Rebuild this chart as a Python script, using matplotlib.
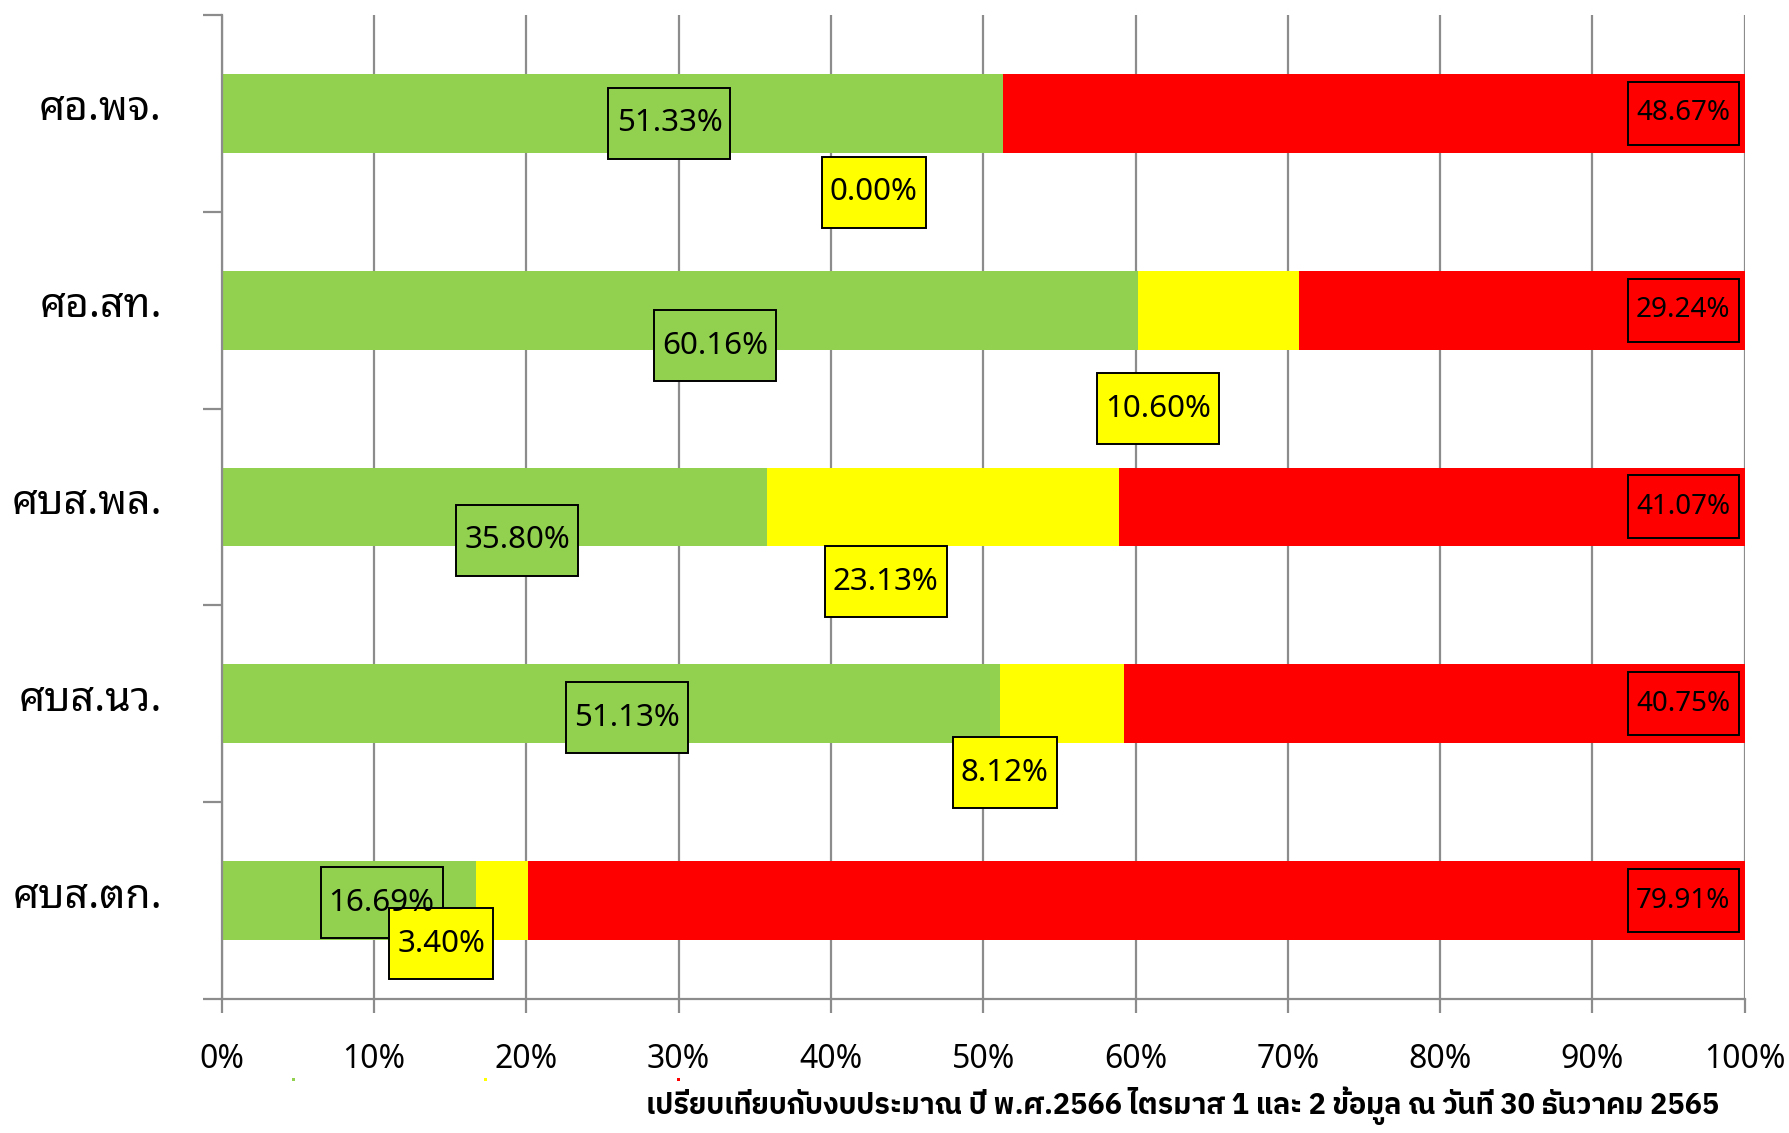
import matplotlib
matplotlib.use("Agg")
import matplotlib.pyplot as plt
from matplotlib.patches import Rectangle
from matplotlib.transforms import ScaledTranslation

# ---- data ----
categories = ["ศอ.พจ.", "ศอ.สท.", "ศบส.พล.", "ศบส.นว.", "ศบส.ตก."]
green_vals = [51.33, 60.16, 35.80, 51.13, 16.69]
yellow_vals = [0.00, 10.60, 23.13, 8.12, 3.40]
red_vals = [48.67, 29.24, 41.07, 40.75, 79.91]
x_ticks = [0, 10, 20, 30, 40, 50, 60, 70, 80, 90, 100]
x_ticklabels = [f"{t}%" for t in x_ticks]
title_text = "เปรียบเทียบกับงบประมาณ ปี พ.ศ.2566 ไตรมาส 1 และ 2 ข้อมูล ณ วันที่ 30 ธันวาคม 2565"

# ---- layout of manually-placed labels (x in %, y offset in category units) ----
green_lbl_x = [29.4, 32.4, 19.4, 26.6, 10.5]
green_lbl_dy = [0.05, 0.18, 0.17, 0.07, 0.01]
yellow_lbl_x = [42.8, 61.5, 43.6, 51.4, 14.4]
yellow_lbl_dy = [0.40, 0.50, 0.38, 0.35, 0.22]
red_lbl_x = [95.95] * 5
red_lbl_dy = [0.0] * 5

GREEN = "#92D050"
YELLOW = "#FFFF00"
RED = "#FF0000"
GRAY = "#8c8c8c"

W, H, DPI = 1790, 1133, 100
fig = plt.figure(figsize=(W / DPI, H / DPI), dpi=DPI)
ax = fig.add_axes([221.7 / W, 1 - 999 / H, (1744.7 - 221.7) / W, (999 - 15) / H])

n = len(categories)
ypos = list(range(n))
ax.barh(ypos, green_vals, height=0.4, color=GREEN, zorder=2)
left2 = [g for g in green_vals]
ax.barh(ypos, yellow_vals, left=left2, height=0.4, color=YELLOW, zorder=2)
left3 = [g + y for g, y in zip(green_vals, yellow_vals)]
ax.barh(ypos, red_vals, left=left3, height=0.4, color=RED, zorder=2)

ax.set_xlim(0, 100)
ax.set_ylim(n - 0.5, -0.5)

# grid & spines
ax.set_xticks(x_ticks)
ax.set_xticklabels(x_ticklabels, fontsize=23, family=["Noto Sans", "DejaVu Sans"])
ax.xaxis.grid(True, color=GRAY, linewidth=1.6, zorder=1)
ax.set_axisbelow(True)
ax.tick_params(axis="x", length=10, width=1.6, color=GRAY, pad=21.5)
ax.set_yticks([i - 0.5 for i in range(n + 1)])
ax.set_yticklabels([])
ax.tick_params(axis="y", which="major", length=14, width=1.6, color=GRAY)
ax.set_yticks(ypos, minor=True)
ax.set_yticklabels(categories, minor=True, fontsize=29.5,
                   family=["Noto Sans Thai Looped", "Noto Sans", "DejaVu Sans"])
ax.tick_params(axis="y", which="minor", length=0, pad=43)
for lbl in ax.get_yticklabels(minor=True):
    lbl.set_transform(lbl.get_transform() + ScaledTranslation(0, 9 / DPI, fig.dpi_scale_trans))
for s in ["top", "right"]:
    ax.spines[s].set_visible(False)
for s in ["left", "bottom"]:
    ax.spines[s].set_color(GRAY)
    ax.spines[s].set_linewidth(1.6)

# data labels with boxes
fig.canvas.draw()
renderer = fig.canvas.get_renderer()


def boxed_label(x, y, txt, face, fs, box_h, box_w):
    ax.text(x, y, txt, ha="center", va="center", fontsize=fs,
            family=["Noto Sans", "DejaVu Sans"], zorder=6, clip_on=False)
    cx, cy = ax.transData.transform((x, y))
    r = Rectangle((cx - box_w / 2, cy - box_h / 2), box_w, box_h, transform=None,
                  facecolor=face, edgecolor="black", linewidth=1.4, zorder=5, clip_on=False)
    ax.add_artist(r)


def box_width(txt, base):
    return base if len(txt) > 5 else base - 18


for i in range(n):
    g, y, r = f"{green_vals[i]:.2f}%", f"{yellow_vals[i]:.2f}%", f"{red_vals[i]:.2f}%"
    boxed_label(green_lbl_x[i], i + green_lbl_dy[i], g, GREEN, 22.5, 71, box_width(g, 122))
    boxed_label(yellow_lbl_x[i], i + yellow_lbl_dy[i], y, YELLOW, 22.5, 71, box_width(y, 122))
    boxed_label(red_lbl_x[i], i + red_lbl_dy[i], r, RED, 20, 63, box_width(r, 111))

# title (axis title at bottom)
fig.text(1183 / W, 1 - 1106 / H, title_text, ha="center", va="center", fontsize=20.7,
         fontweight="bold", family=["IBM Plex Sans Thai", "Noto Sans", "DejaVu Sans"])

# tiny legend remnants
for lx, col in zip([292, 484, 677], [GREEN, YELLOW, RED]):
    fig.add_artist(Rectangle((lx, H - 1081), 3, 3, transform=None, facecolor=col, edgecolor="none"))

fig.savefig("out.png", dpi=DPI)
